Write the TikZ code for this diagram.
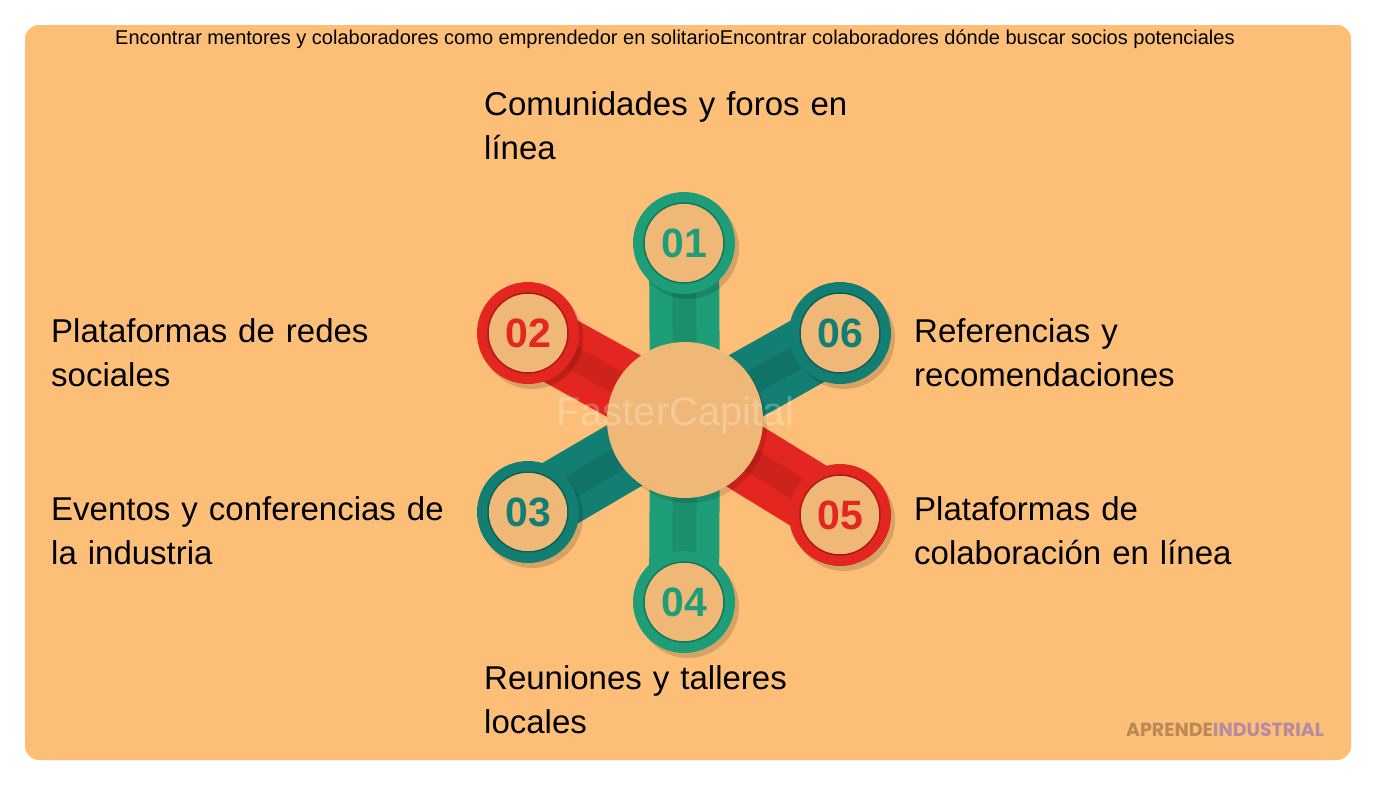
\documentclass[tikz,border=0pt]{standalone}
\usepackage{fontspec}
\usetikzlibrary{calc}
\setmainfont{Liberation Sans}
\newfontfamily\pop{Poppins}
\definecolor{bg}{HTML}{FDBF78}
\definecolor{cen}{HTML}{EFB877}
\definecolor{gr}{HTML}{1E9E78}
\definecolor{te}{HTML}{137F73}
\definecolor{rd}{HTML}{E3261F}
\begin{document}
\begin{tikzpicture}[x=1pt,y=-1pt,
  lab/.style={anchor=north west,font=\fontsize{33}{44}\selectfont,align=left,text width=460pt,inner sep=0pt},
  num/.style={font=\fontsize{41}{41}\selectfont\bfseries}]
\useasboundingbox (0,0) rectangle (1376,785);
\fill[white] (0,0) rectangle (1376,785);
\fill[bg,rounded corners=14pt] (25,25) rectangle (1351,760);
\node[font=\fontsize{20}{22}\selectfont] (title) at (675,39) {Encontrar mentores y colaboradores como emprendedor en solitarioEncontrar colaboradores dónde buscar socios potenciales};
\coordinate (c) at (685,420);
\foreach \n/\x/\y/\col in {p1/684/243/gr, p2/528/333/rd, p6/840/333/te, p3/528/512/te, p5/840/515/rd, p4/684/602/gr}{
  \coordinate (\n) at (\x,\y);
  \draw[\col,line width=70pt] (c) -- (\n);
  \draw[\col!80!black,line width=24pt,opacity=0.45] (c) -- (\n);
}
\foreach \n/\col/\t in {p1/gr/01, p2/rd/02, p6/te/06, p3/te/03, p5/rd/05, p4/gr/04}{
  \fill[black,opacity=0.15] ($(\n)+(4,5)$) circle (51);
  \fill[\col] (\n) circle (51);
  \fill[cen, draw=\col!75!black, line width=1.5pt] (\n) circle (40);
  \node[num,text=\col] (t\t) at (\n) {\t};
}
\fill[black,opacity=0.12] (689,425) circle (78);
\node[circle,fill=cen,minimum size=156pt,inner sep=0pt] (center) at (c) {};
\node[text=white,opacity=0.25,font=\fontsize{40}{40}\selectfont] (wm) at (675,415) {FasterCapital};
\node[lab] (l1) at (484,91) {Comunidades y foros en\\línea};
\node[lab] (l2) at (51,318) {Plataformas de redes\\sociales};
\node[lab] (l6) at (914,318) {Referencias y\\recomendaciones};
\node[lab] (l3) at (51,496) {Eventos y conferencias de\\la industria};
\node[lab] (l5) at (914,496) {Plataformas de\\colaboración en línea};
\node[lab] (l4) at (484,665) {Reuniones y talleres\\locales};
\node[font=\pop\bfseries\fontsize{19}{20}\selectfont] (brand) at (1225,730) {\textcolor[HTML]{B98A55}{APRENDE}\textcolor[HTML]{B58BA0}{INDUSTRIAL}};
\end{tikzpicture}
\end{document}
